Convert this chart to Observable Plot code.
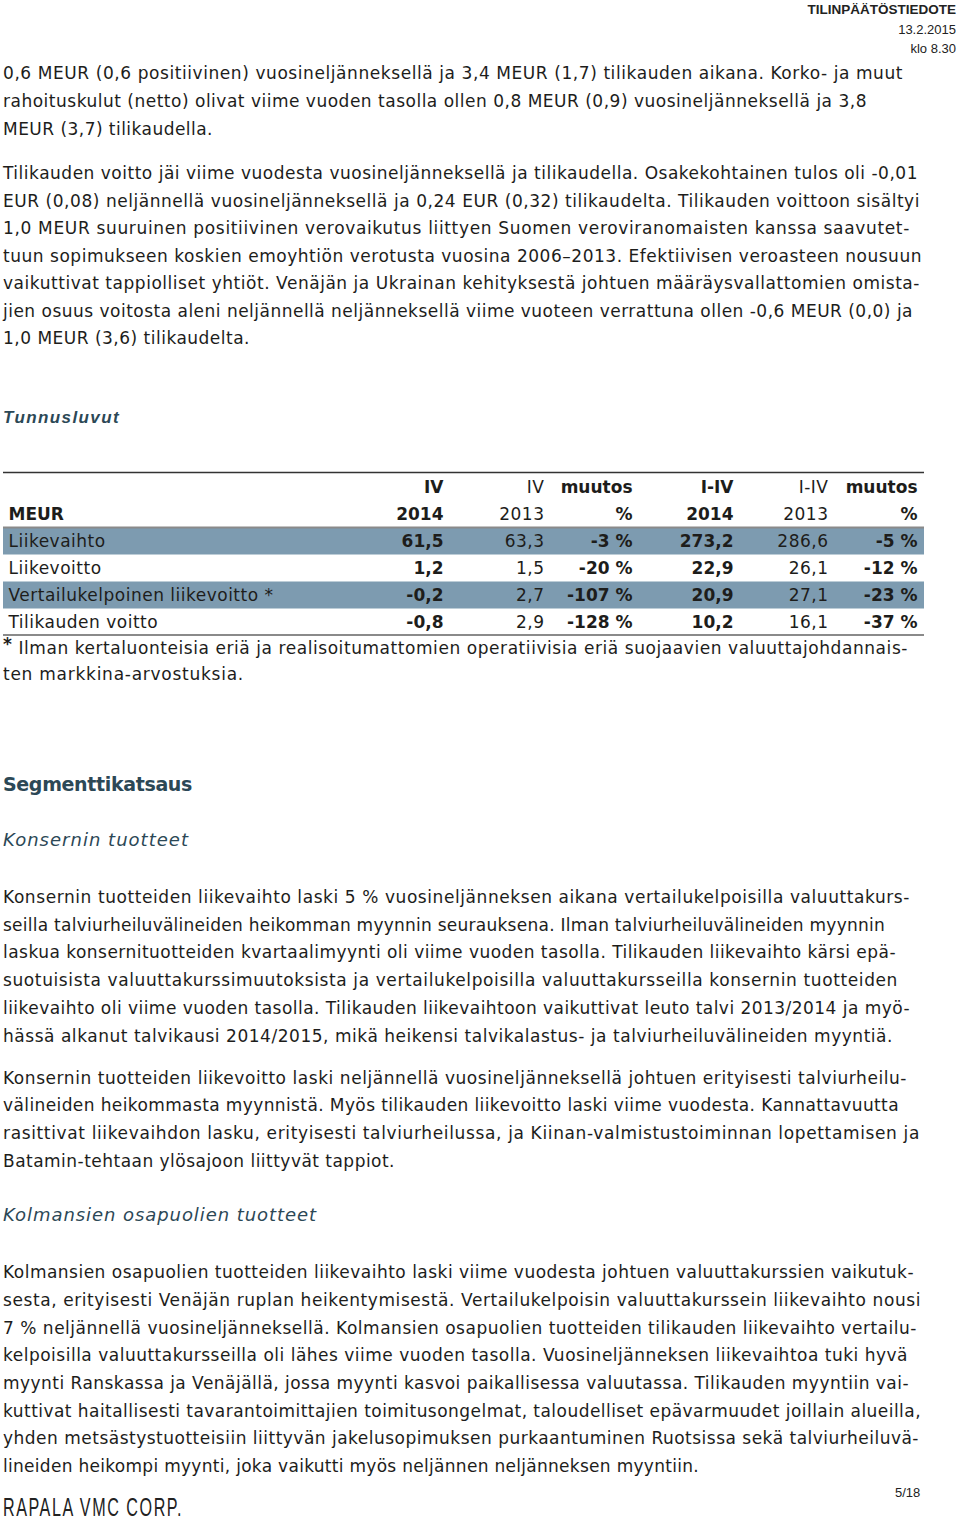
<!DOCTYPE html>
<html>
<head>
<meta charset="utf-8">
<script src="https://cdn.jsdelivr.net/npm/d3@7"></script>
<script src="https://cdn.jsdelivr.net/npm/@observablehq/plot@0.6"></script>
<style>
  html, body { margin: 0; padding: 0; background: #fff; }
  body { width: 960px; height: 1519px; position: relative; overflow: hidden; font-family: "DejaVu Sans", "Noto Sans", sans-serif; color: #1d1d1b; }
  .ln { position: absolute; left: 3px; height: 28px; line-height: 28px; white-space: nowrap; font-size: 17px; }
  .hd { position: absolute; right: 4px; white-space: nowrap; font-family: "Liberation Sans Narrow", "Liberation Sans", sans-serif; font-size: 13px; line-height: 16px; color: #222; }
  .h { position: absolute; left: 3px; white-space: nowrap; color: #2c4856; line-height: 30px; height: 30px; }
  #table { position: absolute; left: 0; top: 465px; }
  .logo { position: absolute; left: 3px; top: 1494px; font-family: "Liberation Sans Narrow", sans-serif; font-size: 26px; line-height: 26px; color: #222; white-space: nowrap; transform: scaleX(0.62); transform-origin: left; letter-spacing: 2.5px; }
  .page { position: absolute; left: 895px; top: 1485px; font-family: "Liberation Sans Narrow", sans-serif; font-size: 13px; line-height: 16px; color: #222; }
</style>
</head>
<body>
<div class="hd" style="top:2px;font-weight:bold;font-size:13.5px;">TILINPÄÄTÖSTIEDOTE</div>
<div class="hd" style="top:22px;">13.2.2015</div>
<div class="hd" style="top:41px;">klo 8.30</div>
<div id="text"></div>
<div id="table"></div>
<div class="logo">RAPALA VMC CORP.</div>
<div class="page">5/18</div>
<script>
// ---- Table data ----
const rowLabels = ["Liikevaihto", "Liikevoitto", "Vertailukelpoinen liikevoitto *", "Tilikauden voitto"];
const q4_2014 = [61.5, 1.2, -0.2, -0.8];
const q4_2013 = [63.3, 1.5, 2.7, 2.9];
const q4_change = [-3, -20, -107, -128];
const fy_2014 = [273.2, 22.9, 20.9, 10.2];
const fy_2013 = [286.6, 26.1, 27.1, 16.1];
const fy_change = [-5, -12, -23, -37];
const headerTop = ["IV", "IV", "muutos", "I-IV", "I-IV", "muutos"];
const headerBottom = ["2014", "2013", "%", "2014", "2013", "%"];
const headerBold = [true, false, true, true, false, true];
const columnBold = [true, false, true, true, false, true];
const shadedRows = ["Liikevaihto", "Vertailukelpoinen liikevoitto *"];

// ---- Layout (not data) ----
const colRight = [443, 544, 632, 733, 828, 917];
const labelX = 8, tableLeft = 3, tableRight = 924;

const fmtNum = v => v.toFixed(1).replace(".", ",");
const fmtPct = v => v + " %";
const cols = [q4_2014, q4_2013, q4_change, fy_2014, fy_2013, fy_change];
const fmts = [fmtNum, fmtNum, fmtPct, fmtNum, fmtNum, fmtPct];

const cells = [];
rowLabels.forEach((lab, r) => {
  cols.forEach((arr, c) => cells.push({row: r + 2, col: c, text: fmts[c](arr[r]), bold: columnBold[c]}));
});
const heads = [];
headerTop.forEach((t, c) => heads.push({row: 0, col: c, text: t, bold: headerBold[c]}));
headerBottom.forEach((t, c) => heads.push({row: 1, col: c, text: t, bold: headerBold[c]}));
const labels = rowLabels.map((l, i) => ({row: i + 2, text: l}));
const shades = rowLabels.map((l, i) => ({row: i + 2, label: l})).filter(d => shadedRows.includes(d.label));
const allText = cells.concat(heads);

const font = "'DejaVu Sans', 'Noto Sans', sans-serif";
const chart = Plot.plot({
  width: 960, height: 175,
  margin: 0,
  x: {domain: [0, 960], range: [0, 960], axis: null},
  y: {domain: [0, 6], range: [8.5, 170.5], axis: null},
  style: {fontFamily: font, fontSize: "17px", letterSpacing: "0.5px", color: "#1d1d1b", background: "transparent"},
  marks: [
    Plot.rect(shades, {x1: () => tableLeft, x2: () => tableRight, y1: d => d.row, y2: d => d.row + 1, fill: "#7d9bb0"}),
    Plot.ruleY([0], {x1: tableLeft, x2: tableRight, stroke: "#333", strokeWidth: 1.5, dy: -1.5}),
    Plot.ruleY([2], {x1: tableLeft, x2: tableRight, stroke: "#8a8a8a", strokeWidth: 2, dy: -0.5}),
    Plot.ruleY([6], {x1: tableLeft, x2: tableRight, stroke: "#8a8a8a", strokeWidth: 2, dy: -1}),
    Plot.text(allText.filter(d => d.bold), {x: d => colRight[d.col], y: d => d.row + 0.5, text: "text", textAnchor: "end", fontWeight: "bold", fill: "#1d1d1b"}),
    Plot.text(allText.filter(d => !d.bold), {x: d => colRight[d.col], y: d => d.row + 0.5, text: "text", textAnchor: "end", fill: "#1d1d1b"}),
    Plot.text(labels, {x: () => labelX, y: d => d.row + 0.5, text: "text", textAnchor: "start", fill: "#1d1d1b"}),
    Plot.text([{row: 1, text: "MEUR"}], {x: () => labelX, y: d => d.row + 0.5, text: "text", textAnchor: "start", fontWeight: "bold", fill: "#1d1d1b"})
  ]
});
chart.querySelectorAll('g[font-weight="bold"]').forEach(g => g.style.letterSpacing = "0px");
document.getElementById("table").appendChild(chart);

// ---- Body text lines: [text, centerY, targetRightX] ----
const lines = [
  ["0,6 MEUR (0,6 positiivinen) vuosineljänneksellä ja 3,4 MEUR (1,7) tilikauden aikana. Korko- ja muut", 73, 903],
  ["rahoituskulut (netto) olivat viime vuoden tasolla ollen 0,8 MEUR (0,9) vuosineljänneksellä ja 3,8", 101, 867],
  ["MEUR (3,7) tilikaudella.", 129, 213],
  ["Tilikauden voitto jäi viime vuodesta vuosineljänneksellä ja tilikaudella. Osakekohtainen tulos oli -0,01", 173, 918],
  ["EUR (0,08) neljännellä vuosineljänneksellä ja 0,24 EUR (0,32) tilikaudelta. Tilikauden voittoon sisältyi", 201, 920],
  ["1,0 MEUR suuruinen positiivinen verovaikutus liittyen Suomen veroviranomaisten kanssa saavutet-", 228, 910],
  ["tuun sopimukseen koskien emoyhtiön verotusta vuosina 2006–2013. Efektiivisen veroasteen nousuun", 256, 922],
  ["vaikuttivat tappiolliset yhtiöt. Venäjän ja Ukrainan kehityksestä johtuen määräysvallattomien omista-", 283, 920],
  ["jien osuus voitosta aleni neljännellä neljänneksellä viime vuoteen verrattuna ollen -0,6 MEUR (0,0) ja", 311, 913],
  ["1,0 MEUR (3,6) tilikaudelta.", 338, 250],
  ["<b style='position:relative;top:-4px'>*</b> Ilman kertaluonteisia eriä ja realisoitumattomien operatiivisia eriä suojaavien valuuttajohdannais-", 648, 908],
  ["ten markkina-arvostuksia.", 674, 244],
  ["Konsernin tuotteiden liikevaihto laski 5 % vuosineljänneksen aikana vertailukelpoisilla valuuttakurs-", 897, 910],
  ["seilla talviurheiluvälineiden heikomman myynnin seurauksena. Ilman talviurheiluvälineiden myynnin", 925, 885],
  ["laskua konsernituotteiden kvartaalimyynti oli viime vuoden tasolla. Tilikauden liikevaihto kärsi epä-", 952, 896],
  ["suotuisista valuuttakurssimuutoksista ja vertailukelpoisilla valuuttakursseilla konsernin tuotteiden", 980, 898],
  ["liikevaihto oli viime vuoden tasolla. Tilikauden liikevaihtoon vaikuttivat leuto talvi 2013/2014 ja myö-", 1008, 910],
  ["hässä alkanut talvikausi 2014/2015, mikä heikensi talvikalastus- ja talviurheiluvälineiden myyntiä.", 1036, 893],
  ["Konsernin tuotteiden liikevoitto laski neljännellä vuosineljänneksellä johtuen erityisesti talviurheilu-", 1078, 907],
  ["välineiden heikommasta myynnistä. Myös tilikauden liikevoitto laski viime vuodesta. Kannattavuutta", 1105, 899],
  ["rasittivat liikevaihdon lasku, erityisesti talviurheilussa, ja Kiinan-valmistustoiminnan lopettamisen ja", 1133, 920],
  ["Batamin-tehtaan ylösajoon liittyvät tappiot.", 1161, 395],
  ["Kolmansien osapuolien tuotteiden liikevaihto laski viime vuodesta johtuen valuuttakurssien vaikutuk-", 1272, 914],
  ["sesta, erityisesti Venäjän ruplan heikentymisestä. Vertailukelpoisin valuuttakurssein liikevaihto nousi", 1300, 921],
  ["7 % neljännellä vuosineljänneksellä. Kolmansien osapuolien tuotteiden tilikauden liikevaihto vertailu-", 1328, 917],
  ["kelpoisilla valuuttakursseilla oli lähes viime vuoden tasolla. Vuosineljänneksen liikevaihtoa tuki hyvä", 1355, 908],
  ["myynti Ranskassa ja Venäjällä, jossa myynti kasvoi paikallisessa valuutassa. Tilikauden myyntiin vai-", 1383, 909],
  ["kuttivat haitallisesti tavarantoimittajien toimitusongelmat, taloudelliset epävarmuudet joillain alueilla,", 1411, 921],
  ["yhden metsästystuotteisiin liittyvän jakelusopimuksen purkaantuminen Ruotsissa sekä talviurheiluvä-", 1438, 919],
  ["lineiden heikompi myynti, joka vaikutti myös neljännen neljänneksen myyntiin.", 1466, 699]
];
const headings = [
  ["Tunnusluvut", 418, 120, "font-weight:bold;font-style:italic;font-size:17px;font-family:'Liberation Sans',sans-serif;"],
  ["Segmenttikatsaus", 784, 192, "font-weight:bold;font-size:19px;"],
  ["Konsernin tuotteet", 840, 189, "font-style:italic;font-size:18px;"],
  ["Kolmansien osapuolien tuotteet", 1215, 317, "font-style:italic;font-size:18px;"]
];
const host = document.getElementById("text");
lines.forEach(([t, cy, w]) => {
  const d = document.createElement("div");
  d.className = "ln";
  d.style.top = (cy - 14) + "px";
  d.innerHTML = `<span data-w="${w - 3}">${t}</span>`;
  host.appendChild(d);
});
headings.forEach(([t, cy, w, st]) => {
  const d = document.createElement("div");
  d.className = "h";
  d.style.cssText = st + `top:${cy - 15}px;`;
  d.innerHTML = `<span data-w="${w - 3}">${t}</span>`;
  host.appendChild(d);
});
// fit each line's width to the measured width in the reference
document.querySelectorAll("span[data-w]").forEach(s => {
  const target = +s.dataset.w;
  const w = s.getBoundingClientRect().width;
  const n = s.textContent.length;
  s.style.letterSpacing = ((target - w) / n) + "px";
});
</script>
</body>
</html>
